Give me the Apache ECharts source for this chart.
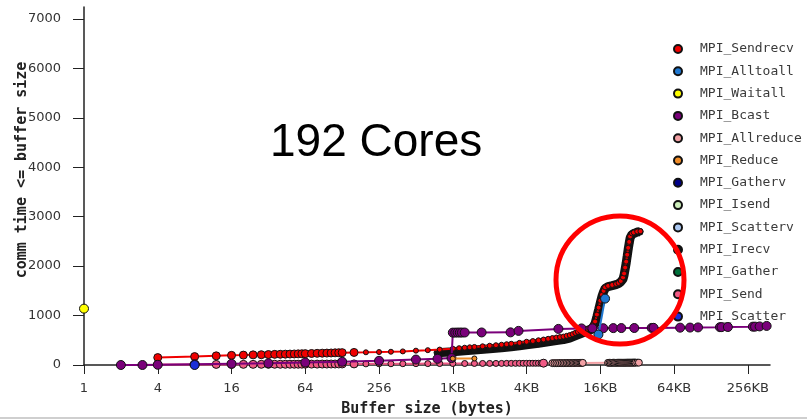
<!DOCTYPE html>
<html>
<head>
<meta charset="utf-8">
<script src="https://cdn.jsdelivr.net/npm/echarts@6/dist/echarts.min.js"></script>
<style>
html, body { margin:0; padding:0; background:#fff; }
#chart { width:807px; height:419px; }
</style>
</head>
<body>
<div id="chart"></div>
<script>
// cumulative comm time vs buffer size (bytes)
var sendrecvSize = [4,8,12,16,20,24,28,32,36,40,44,48,52,56,60,64,72,80,88,96,104,112,120,128,160,200,256,320,400,512,640,800,
  1024,1152,1280,1408,1536,1792,2048,2304,2560,2816,3072,3584,4096,4608,5120,5632,6144,6656,7168,7680,8192,8704,9216,9728,
  10240,10752,11264,11776,12288,12800,13312,13824,14336,14848,15360,15872,16384,16896,17408,17920,18944,20480,22016,23040,
  24064,25088,25600,26112,26624,27136,27648,28160,28672,29696,30720,32768,34816];
var sendrecvTime = [150,170,185,195,200,205,208,212,215,217,219,221,223,225,227,230,233,236,239,241,243,246,248,250,254,257,262,268,275,290,300,312,
  330,340,350,358,365,378,390,400,410,420,430,448,470,485,500,515,530,545,555,565,575,590,605,625,
  650,670,690,705,720,735,750,770,820,880,1020,1160,1300,1420,1500,1570,1600,1620,1640,1660,
  1700,1770,1850,1970,2090,2230,2370,2490,2600,2660,2680,2700,2705];

var irecvSize = [768,1024,1280,1536,2048,2560,3072,3584,4096,5120,6144,7168,8192,9216,10240,11264,12288,13312,13824,14336,
  14848,15360,15872,16384,16896,17408,17920,18944,20480,22016,23040,24064,25088,25600,26112,26624,27136,27648,28160,28672,
  29696,30720,32768,34304];
var irecvTime = [250,270,290,305,330,350,370,390,410,440,470,495,515,545,590,630,665,695,720,770,
  840,980,1120,1260,1390,1480,1550,1585,1605,1625,1645,1680,1740,1820,1940,2060,2200,2340,2460,2570,
  2640,2670,2690,2695];

var sendSize = [4,8,12,16,20,24,28,32,36,40,44,48,52,56,60,64,72,80,88,96,104,112,120,128,160,200,256,320,400,512,640,800,
  1024,1280,1536,1792,2048,2304,2560,2816,3072,3328,3584,3840,4096,4352,4608,4864,5120,5376,5632];
var sendTime = [10,10,12,12,13,13,14,14,15,15,15,16,16,16,17,17,18,18,19,19,20,20,21,21,22,23,24,25,26,27,28,29,
  30,30,31,31,32,32,32,33,33,33,34,34,34,35,35,35,36,36,37];

var allreduceSize = [5632,6656,6912,7168,7424,7680,7936,8192,8448,8704,8960,9216,9472,9728,9984,10240,10496,10752,11008,11264,11520,11776,
  18944,19456,19968,20480,20992,21504,22016,22528,23040,23552,24064,24576,25088,25600,26112,26624,27136,27648,28160,28672,29184,
  29696,30208,30720,31232,31744,32768,33792];
var allreduceTime = [37,38,38,38,38,39,39,39,39,40,40,40,40,41,41,41,41,42,42,42,42,43,
  44,44,44,44,45,45,45,45,45,45,46,46,46,46,46,46,47,47,47,47,47,
  47,48,48,48,48,48,48];

var bcastSize = [2,3,4,8,16,32,64,128,256,512,768,1000,1024,1072,1120,1168,1216,1280,1760,3030,3520,7450,11500,14100,17300,20900,24300,31000,
  43000,44500,73400,88400,102700,155000,160000,180000,288000,300000,327000,373000];
var bcastTime = [0,0,5,15,25,35,50,65,85,110,125,140,655,655,656,656,656,657,658,660,690,730,740,742,744,746,747,748,
  750,752,755,757,760,765,766,768,775,776,780,790];

var reduceSize = [1024,1536];
var reduceTime = [130,132];

var alltoallSize = [15800,17900];
var alltoallTime = [616,1343];

var waitallSize = [1];
var waitallTime = [1140];

var scatterSize = [8];
var scatterTime = [0];

var legendNames = ['MPI_Sendrecv','MPI_Alltoall','MPI_Waitall','MPI_Bcast','MPI_Allreduce','MPI_Reduce',
  'MPI_Gatherv','MPI_Isend','MPI_Scatterv','MPI_Irecv','MPI_Gather','MPI_Send','MPI_Scatter'];

var xTicks = [0,2,4,6,8,10,12,14,16,18];
var yTicks = [0,1000,2000,3000,4000,5000,6000,7000];

function pts(sizes, times) {
  return sizes.map(function(s, i){ return [Math.log2(s), times[i]]; });
}

function mk(name, color, sizes, times, z, opts) {
  var s = {
    name: name,
    type: 'line',
    data: sizes ? pts(sizes, times) : [],
    symbol: 'circle',
    symbolSize: 9,
    z: z,
    lineStyle: { color: color, width: 2 },
    itemStyle: { color: color, borderColor: '#111', borderWidth: 1 },
    emphasis: { disabled: true }
  };
  if (opts) Object.keys(opts).forEach(function(k){ s[k] = opts[k]; });
  return s;
}

var chart = echarts.init(document.getElementById('chart'));
var option = {
  animation: false,
  grid: { left: 84, right: 37, top: 7, bottom: 54, outerBoundsMode: 'none' },
  legend: {
    data: legendNames,
    orient: 'vertical',
    left: 673,
    top: 42,
    padding: 0,
    icon: 'circle',
    itemWidth: 34,
    itemHeight: 8,
    itemGap: 8.3,
    textStyle: { fontFamily: 'DejaVu Sans Mono', fontSize: 13, color: '#3a3a3a', lineHeight: 14 }
  },
  xAxis: {
    type: 'value',
    min: 0,
    max: 18.6,
    name: 'Buffer size (bytes)',
    nameLocation: 'middle',
    nameGap: 37,
    nameTextStyle: { fontFamily: 'DejaVu Sans Mono', fontWeight: 'bold', fontSize: 15, color: '#222' },
    axisLine: { lineStyle: { color: '#222', width: 1.5 } },
    axisTick: { customValues: xTicks, length: 9, lineStyle: { color: '#222' } },
    axisLabel: {
      customValues: xTicks,
      margin: 17,
      fontFamily: 'DejaVu Sans',
      fontSize: 13,
      color: '#333',
      formatter: function(v) {
        var b = Math.round(Math.pow(2, v));
        return b < 1024 ? String(b) : (b / 1024) + 'KB';
      }
    },
    splitLine: { show: false }
  },
  yAxis: {
    type: 'value',
    min: 0,
    max: 7240,
    axisLine: { show: true, lineStyle: { color: '#222', width: 1.5 } },
    axisTick: { show: true, customValues: yTicks, length: 11, lineStyle: { color: '#222' } },
    axisLabel: {
      customValues: yTicks, margin: 23, fontFamily: 'DejaVu Sans', fontSize: 13, color: '#333',
      formatter: function(v) { return String(v); }
    },
    splitLine: { show: false }
  },
  graphic: [
    {
      type: 'rect', z: -1,
      shape: { x: 0, y: 417, width: 807, height: 2 },
      style: { fill: '#cfcfcf' }
    },
    {
      type: 'text', x: 22, y: 170, rotation: Math.PI / 2,
      style: { text: 'comm time <= buffer size', align: 'center', verticalAlign: 'middle',
        font: 'bold 15px "DejaVu Sans Mono", monospace', fill: '#222' }
    },
    {
      type: 'text', x: 270, y: 143, z: 100,
      style: { text: '192 Cores', align: 'left', verticalAlign: 'middle',
        font: '46px "Liberation Sans", Arial, sans-serif', fill: '#000' }
    },
    {
      type: 'circle', z: 100,
      shape: { cx: 620, cy: 280, r: 64 },
      style: { fill: 'none', stroke: '#ff0000', lineWidth: 5 }
    }
  ],
  series: [
    mk('MPI_Sendrecv', '#f00000', sendrecvSize, sendrecvTime, 5, {
      symbolSize: function(v) { return v[0] < 7.5 ? 8 : 5; }
    }),
    mk('MPI_Alltoall', '#1f78d1', alltoallSize, alltoallTime, 8),
    mk('MPI_Waitall', '#ffff00', waitallSize, waitallTime, 9),
    mk('MPI_Bcast', '#7a007a', bcastSize, bcastTime, 6),
    mk('MPI_Allreduce', '#f2a0a4', allreduceSize, allreduceTime, 3, { symbolSize: 7 }),
    mk('MPI_Reduce', '#f08c28', reduceSize, reduceTime, 7, { symbolSize: 5 }),
    mk('MPI_Gatherv', '#000088', null, null, 2),
    mk('MPI_Isend', '#cdeebb', null, null, 2),
    mk('MPI_Scatterv', '#abc8f2', null, null, 2),
    mk('MPI_Irecv', '#141414', irecvSize, irecvTime, 4, {
      symbolSize: 7,
      lineStyle: { color: '#111', width: 9 }
    }),
    mk('MPI_Gather', '#00703a', null, null, 2),
    mk('MPI_Send', '#f05a85', sendSize, sendTime, 3, {
      symbolSize: function(v) { return v[0] < 7.5 || v[0] > 12.4 ? 8 : 6; }
    }),
    mk('MPI_Scatter', '#1b2fd8', scatterSize, scatterTime, 9)
  ]
};
chart.setOption(option);
</script>
</body>
</html>
